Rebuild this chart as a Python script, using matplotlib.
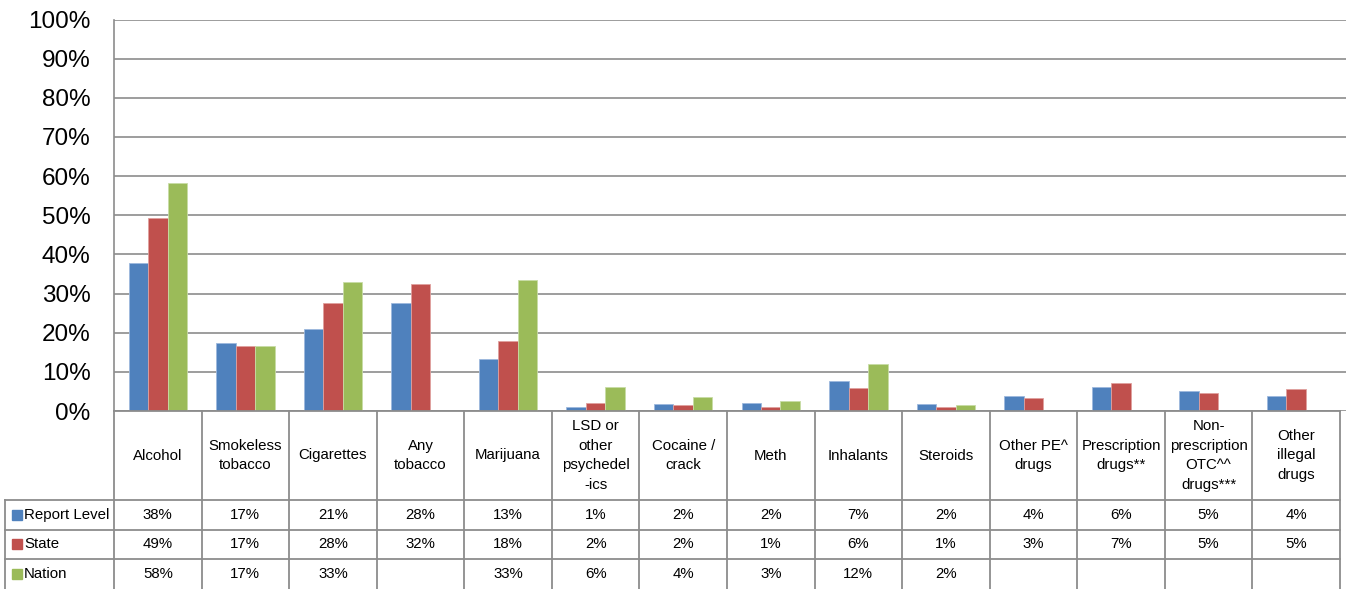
import matplotlib.pyplot as plt
import numpy as np

plt.rcParams['font.family'] = ['Liberation Sans', 'DejaVu Sans']

# categories (header cells of the data table)
categories = ["Alcohol", "Smokeless\ntobacco", "Cigarettes", "Any\ntobacco", "Marijuana",
              "LSD or\nother\npsychedel\n-ics", "Cocaine /\ncrack", "Meth", "Inhalants",
              "Steroids", "Other PE^\ndrugs", "Prescription\ndrugs**",
              "Non-\nprescription\nOTC^^\ndrugs***", "Other\nillegal\ndrugs"]

series_names = ["Report Level", "State", "Nation"]

# bar heights (percent), None = no bar
report_level = [37.8, 17.3, 20.9, 27.5, 13.3, 1.0, 1.8, 2.0, 7.6, 1.8, 3.8, 6.1, 5.1, 3.8]
state = [49.2, 16.6, 27.5, 32.4, 17.9, 2.0, 1.5, 1.0, 5.9, 1.0, 3.3, 7.1, 4.6, 5.6]
nation = [58.2, 16.6, 32.9, None, 33.4, 6.1, 3.6, 2.5, 12.0, 1.5, None, None, None, None]

# labels printed in the data table
report_labels = ["38%", "17%", "21%", "28%", "13%", "1%", "2%", "2%", "7%", "2%", "4%", "6%", "5%", "4%"]
state_labels = ["49%", "17%", "28%", "32%", "18%", "2%", "2%", "1%", "6%", "1%", "3%", "7%", "5%", "5%"]
nation_labels = ["58%", "17%", "33%", "", "33%", "6%", "4%", "3%", "12%", "2%", "", "", "", ""]

colors = ["#4F81BD", "#C0504D", "#9BBB59"]
edges = ["#9DB9DE", "#E0A09E", "#C8DCA6"]
grid_col = "#8C8C8C"

W, H = 1346, 589
fig = plt.figure(figsize=(W / 100, H / 100), dpi=100)

# pixel geometry
x_left, x_right = 114, 1346
y_top, y_zero = 19.5, 411
cat_w = 87.57
x_max = -0.5 + (x_right - x_left) / cat_w

ax = fig.add_axes([x_left / W, 1 - y_zero / H, (x_right - x_left) / W, (y_zero - y_top) / H])
n = len(categories)
x = np.arange(n)
bw = 0.222
all_series = [report_level, state, nation]
for k, vals in enumerate(all_series):
    xs = [x[i] + (k - 1) * bw for i in range(n) if vals[i] is not None]
    hs = [vals[i] for i in range(n) if vals[i] is not None]
    ax.bar(xs, hs, width=bw, color=colors[k], edgecolor=edges[k], linewidth=0.6, zorder=3)

ax.set_xlim(-0.5, x_max)
ax.set_ylim(0, 100)
ax.set_yticks(np.arange(0, 101, 10))
ax.set_yticklabels([f"{v}%" for v in range(0, 101, 10)], fontsize=17.5)
ax.tick_params(axis='y', length=0, pad=17)
ax.set_xticks([])
ax.grid(axis='y', color=grid_col, linewidth=1.2, zorder=0)
for s in ["top", "right", "bottom"]:
    ax.spines[s].set_visible(False)
ax.spines["left"].set_color(grid_col)
ax.spines["left"].set_linewidth(1.2)

# data table below the chart
tab = fig.add_axes([x_left / W, 0, (x_right - x_left) / W, (H - y_zero) / H])
tab.set_xlim(-0.5, x_max)
tab.set_ylim(0, H - y_zero)
tab.axis('off')

top = H - y_zero
row_lines = [top - 89, top - 118.5, top - 148]
x_lab = -0.5 - (x_left - 5) / cat_w
lw = 1.3
tab.plot([-0.5, n - 0.5], [top, top], color=grid_col, lw=lw, clip_on=False)
for yl in row_lines:
    tab.plot([x_lab, n - 0.5], [yl, yl], color=grid_col, lw=lw, clip_on=False)
for i in range(n + 1):
    tab.plot([i - 0.5, i - 0.5], [0, top], color=grid_col, lw=lw, clip_on=False)
tab.plot([x_lab, x_lab], [0, row_lines[0]], color=grid_col, lw=lw, clip_on=False)

fs = 10.8
for i, c in enumerate(categories):
    tab.text(i, (top + row_lines[0]) / 2, c, ha='center', va='center', fontsize=fs,
             linespacing=1.5, clip_on=False)

row_mid = [(row_lines[0] + row_lines[1]) / 2, (row_lines[1] + row_lines[2]) / 2, row_lines[2] / 2]
all_labels = [report_labels, state_labels, nation_labels]
for k in range(3):
    for i in range(n):
        tab.text(i, row_mid[k], all_labels[k][i], ha='center', va='center', fontsize=fs)
    key_x = -0.5 - (x_left - 12) / cat_w
    tab.add_patch(plt.Rectangle((key_x, row_mid[k] - 5), 10 / cat_w, 10,
                                color=colors[k], clip_on=False))
    tab.text(-0.5 - (x_left - 24) / cat_w, row_mid[k], series_names[k], ha='left',
             va='center', fontsize=fs, clip_on=False)

plt.savefig("out.png", dpi=100)
